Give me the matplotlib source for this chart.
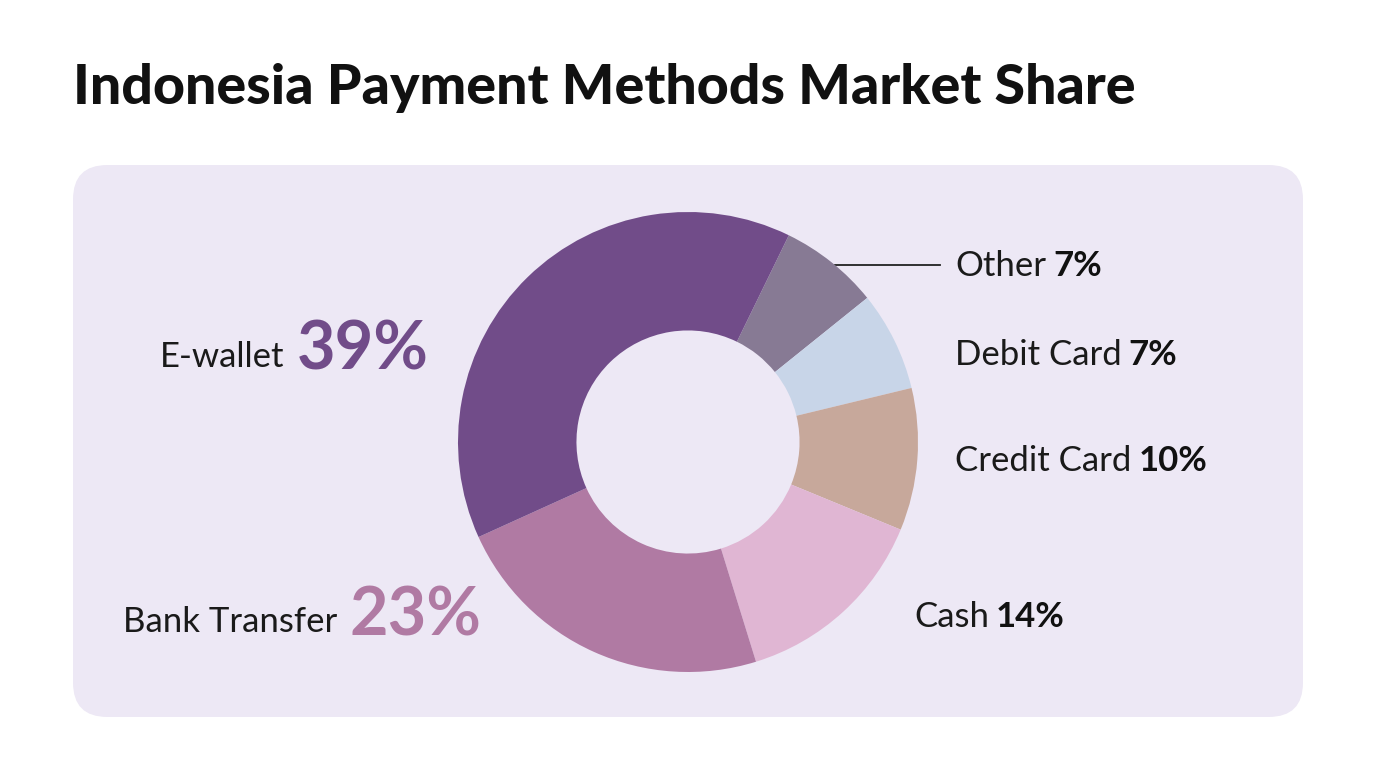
import matplotlib.pyplot as plt
from matplotlib.patches import FancyBboxPatch

labels = ["Other", "Debit Card", "Credit Card", "Cash", "Bank Transfer", "E-wallet"]
shares = [7, 7, 10, 14, 23, 39]
colors = ["#877A94", "#C8D5E8", "#C7A89B", "#E0B6D3", "#B07AA3", "#714C89"]

W, H = 1376, 768
fig = plt.figure(figsize=(W / 100, H / 100), dpi=100)
fig.patch.set_facecolor("white")
plt.rcParams["font.family"] = ["Lato", "DejaVu Sans"]


def px(x, y):
    return x / W, 1 - y / H


# background panel
panel = FancyBboxPatch((73 / W, 1 - 717 / H), (1303 - 73) / W, (717 - 165) / H,
                       boxstyle="round,pad=0,rounding_size=0.025",
                       transform=fig.transFigure, facecolor="#EDE8F5",
                       edgecolor="none", mutation_aspect=W / H, zorder=-5)
fig.patches.append(panel)

fig.text(*px(73, 88), "Indonesia Payment Methods Market Share",
         fontsize=40, fontweight="black", va="center", ha="left", color="#111111")

cx, cy, r = 688, 442, 230
ax = fig.add_axes([(cx - r) / W, (H - cy - r) / H, 2 * r / W, 2 * r / H], zorder=2)
ax.pie(shares, colors=colors, startangle=64, counterclock=False,
       wedgeprops=dict(width=0.515, edgecolor="none"), radius=1)
ax.set_xlim(-1, 1)
ax.set_ylim(-1, 1)
ax.set_aspect("auto")
ax.axis("off")

renderer = fig.canvas.get_renderer()


def width_px(t):
    return t.get_window_extent(renderer).width


# left big labels: percent right after the label
for i, x0, y, col in [(5, 160, 357, "#714C89"), (4, 123, 622, "#B07AA3")]:
    t = fig.text(*px(x0, y), labels[i], fontsize=25, ha="left", va="center", color="#1a1a1a")
    fig.text(*px(x0 + width_px(t) + 12, y - 6), f"{shares[i]}%", fontsize=48,
             fontweight="bold", ha="left", va="center", color=col)

# right labels: (index, x, y)
for i, x0, y in [(0, 955, 266), (1, 955, 355), (2, 955, 461), (3, 914, 617)]:
    t = fig.text(*px(x0, y), labels[i], fontsize=25, ha="left", va="center", color="#1a1a1a")
    fig.text(*px(x0 + width_px(t) + 7, y), f"{shares[i]}%", fontsize=25,
             fontweight="bold", ha="left", va="center", color="#111111")

fig.add_artist(plt.Line2D([835 / W, 940 / W], [1 - 265 / H, 1 - 265 / H],
                          transform=fig.transFigure, color="#222222", lw=1.3))

fig.savefig("out.png", dpi=100)
